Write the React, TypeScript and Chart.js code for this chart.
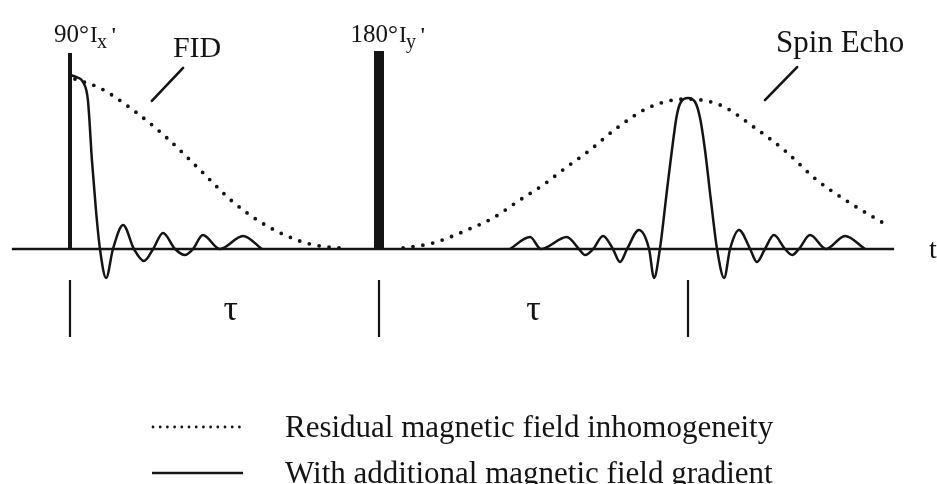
import React, { useEffect, useRef } from "react";
import { Chart, registerables } from "chart.js";

Chart.register(...registerables);

// ---- data (time in units of tau, signal normalised to echo peak) ----
const pulseTimes = [0, 1];
const pulseHeights = [1.307, 1.32];
const pulseWidths = [4, 10];
const pulseLabels = ["90°", "180°"];
const pulseAxes = ["x", "y"];
const markerTimes = [0, 1, 2];
const markerRange = [-0.207, -0.587];
const tauLabelTimes = [0.52, 1.5];
const axisRange = [-0.188, 2.667];

const fidDottedT = [0.016, 0.097, 0.204, 0.314, 0.421, 0.528, 0.638, 0.744, 0.809, 0.874];
const fidDottedS = [1.133, 1.073, 0.927, 0.74, 0.527, 0.313, 0.153, 0.053, 0.02, 0.007];

const echoDottedT = [1.078, 1.175, 1.285, 1.369, 1.456, 1.531, 1.608, 1.683, 1.77, 1.877, 1.994, 2.104, 2.217, 2.311, 2.417, 2.524, 2.654];
const echoDottedS = [0.007, 0.04, 0.127, 0.207, 0.327, 0.427, 0.547, 0.66, 0.807, 0.947, 1.0, 0.96, 0.807, 0.66, 0.46, 0.307, 0.147];

const fidSolidT = [0, 0.019, 0.042, 0.058, 0.071, 0.084, 0.097, 0.117, 0.139, 0.172, 0.207, 0.239, 0.269, 0.301, 0.34, 0.372, 0.398, 0.43, 0.485, 0.56, 0.621];
const fidSolidS = [1.16, 1.147, 1.113, 0.993, 0.593, 0.26, 0, -0.193, 0, 0.16, 0, -0.08, 0, 0.107, 0, -0.04, 0, 0.093, 0, 0.087, 0];

const echoSolidT = [1.424, 1.489, 1.524, 1.608, 1.647, 1.667, 1.693, 1.725, 1.757, 1.78, 1.803, 1.841, 1.874, 1.89, 1.909, 1.932, 1.948, 1.964, 1.977, 2.0, 2.023, 2.039, 2.055, 2.074, 2.094, 2.117, 2.136, 2.165, 2.201, 2.223, 2.249, 2.278, 2.314, 2.337, 2.359, 2.395, 2.447, 2.508, 2.573];
const echoSolidS = [0, 0.08, 0, 0.08, 0, -0.04, 0, 0.087, 0, -0.087, 0, 0.127, 0, -0.193, 0, 0.393, 0.66, 0.893, 0.98, 1.007, 0.98, 0.873, 0.66, 0.327, 0, -0.193, 0, 0.127, 0, -0.087, 0, 0.093, 0, -0.04, 0, 0.093, 0, 0.087, 0];

const legendLabels = [
  "Residual magnetic field inhomogeneity",
  "With additional magnetic field gradient",
];

const INK = "#141414";
const SERIF = '"Liberation Serif", "Times New Roman", serif';

const toPts = (ts: number[], ss: number[]) => ts.map((t, i) => ({ x: t, y: ss[i] }));
const seg = (x1: number, y1: number, x2: number, y2: number) => [
  { x: x1, y: y1 },
  { x: x2, y: y2 },
];

const annotPlugin = {
  id: "annot",
  afterDraw(chart: any) {
    const { ctx, scales } = chart;
    const X = (t: number) => scales.x.getPixelForValue(t);
    const Y = (s: number) => scales.y.getPixelForValue(s);
    ctx.save();
    ctx.fillStyle = INK;
    ctx.strokeStyle = INK;
    ctx.textBaseline = "alphabetic";

    // pulse labels
    pulseTimes.forEach((t, i) => {
      const px = X(t);
      ctx.font = `25px ${SERIF}`;
      ctx.textAlign = "right";
      ctx.fillText(pulseLabels[i], px + 19, 42);
      ctx.textAlign = "left";
      ctx.font = `23px ${SERIF}`;
      ctx.fillText("I", px + 20, 42);
      ctx.font = `20px ${SERIF}`;
      ctx.fillText(pulseAxes[i], px + 27, 48);
      const w = ctx.measureText(pulseAxes[i]).width;
      ctx.font = `bold 20px ${SERIF}`;
      ctx.fillText("'", px + 27 + w + 4, 42);
    });

    // FID label + pointer
    ctx.lineWidth = 2.6;
    ctx.lineCap = "round";
    ctx.beginPath();
    ctx.moveTo(X(0.265), Y(0.987));
    ctx.lineTo(X(0.366), Y(1.207));
    ctx.stroke();
    ctx.font = `30px ${SERIF}`;
    ctx.textAlign = "left";
    ctx.fillText("FID", X(0.333), Y(1.28));

    // Spin echo label + pointer
    ctx.beginPath();
    ctx.moveTo(X(2.249), Y(0.993));
    ctx.lineTo(X(2.353), Y(1.213));
    ctx.stroke();
    ctx.font = `31px ${SERIF}`;
    ctx.fillText("Spin Echo", X(2.285), Y(1.313));

    // time axis label
    ctx.font = `28px ${SERIF}`;
    ctx.fillText("t", 929, Y(-0.06));

    // tau labels
    ctx.font = `36px ${SERIF}`;
    ctx.textAlign = "center";
    tauLabelTimes.forEach((t) => ctx.fillText("τ", X(t), 320));

    // legend
    ctx.textAlign = "left";
    ctx.font = `31px ${SERIF}`;
    const rows = [427, 473];
    const base = [437, 483];
    ctx.lineCap = "round";
    ctx.lineWidth = 2.8;
    ctx.setLineDash([0, 7.2]);
    ctx.beginPath();
    ctx.moveTo(153, rows[0]);
    ctx.lineTo(243, rows[0]);
    ctx.stroke();
    ctx.setLineDash([]);
    ctx.lineCap = "butt";
    ctx.lineWidth = 2.6;
    ctx.beginPath();
    ctx.moveTo(152, rows[1]);
    ctx.lineTo(243, rows[1]);
    ctx.stroke();
    legendLabels.forEach((l, i) => ctx.fillText(l, 285, base[i]));

    ctx.restore();
  },
};

export default function App() {
  const ref = useRef<HTMLCanvasElement>(null);

  useEffect(() => {
    if (!ref.current) return;
    const line = (data: any[], extra: any = {}) => ({
      data,
      borderColor: INK,
      backgroundColor: INK,
      pointRadius: 0,
      fill: false,
      borderWidth: 2.5,
      ...extra,
    });

    const datasets: any[] = [];
    datasets.push(line(seg(axisRange[0], 0, axisRange[1], 0), { borderWidth: 2.6 }));
    pulseTimes.forEach((t, i) =>
      datasets.push(line(seg(t, 0, t, pulseHeights[i]), { borderWidth: pulseWidths[i], borderCapStyle: "butt" }))
    );
    markerTimes.forEach((t) =>
      datasets.push(line(seg(t, markerRange[0], t, markerRange[1]), { borderWidth: 2.2 }))
    );
    const dotted = {
      borderDash: [0, 10],
      borderCapStyle: "round",
      borderWidth: 3.8,
      cubicInterpolationMode: "monotone",
    };
    datasets.push(line(toPts(fidDottedT, fidDottedS), dotted));
    datasets.push(line(toPts(echoDottedT, echoDottedS), dotted));
    const solid = { cubicInterpolationMode: "monotone", borderJoinStyle: "round" };
    datasets.push(line(toPts(fidSolidT, fidSolidS), solid));
    datasets.push(line(toPts(echoSolidT, echoSolidS), solid));

    const chart = new Chart(ref.current, {
      type: "line",
      data: { datasets },
      options: {
        responsive: false,
        animation: false,
        events: [],
        layout: { padding: 0 },
        plugins: { legend: { display: false }, tooltip: { enabled: false }, title: { display: false } },
        scales: {
          x: { type: "linear", min: -0.2265, max: 2.8058, display: false },
          y: { type: "linear", min: -1.5667, max: 1.66, display: false },
        },
      },
      plugins: [annotPlugin],
    } as any);
    return () => chart.destroy();
  }, []);

  return (
    <div style={{ position: "fixed", left: 0, top: 0, width: 937, height: 484, background: "#fff" }}>
      <canvas ref={ref} width={937} height={484} style={{ display: "block" }} />
    </div>
  );
}
